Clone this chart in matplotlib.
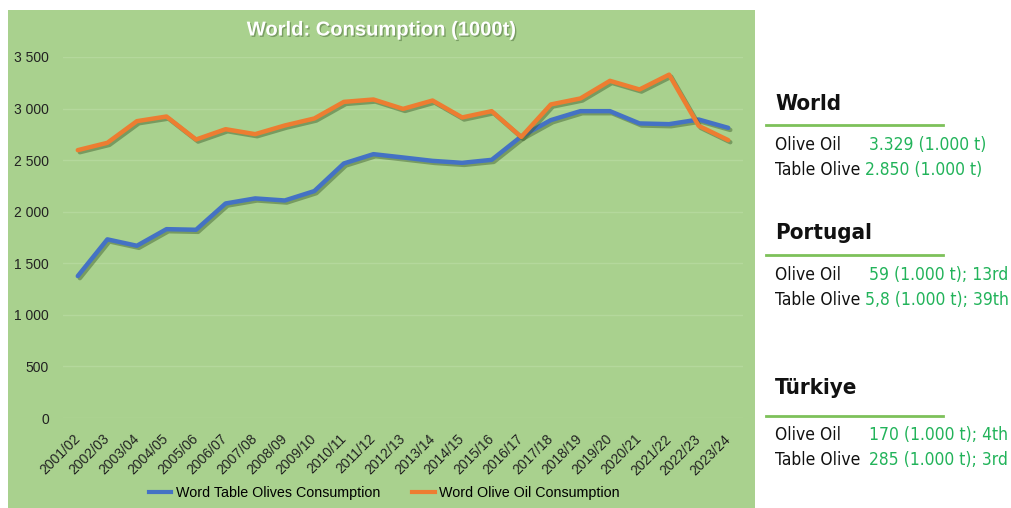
import matplotlib
matplotlib.use("Agg")
import matplotlib.pyplot as plt
import matplotlib.patheffects as pe
import matplotlib.transforms as mtransforms
from matplotlib.patches import Rectangle
from matplotlib.lines import Line2D
from matplotlib import font_manager

seasons = ["2001/02", "2002/03", "2003/04", "2004/05", "2005/06", "2006/07", "2007/08",
           "2008/09", "2009/10", "2010/11", "2011/12", "2012/13", "2013/14", "2014/15",
           "2015/16", "2016/17", "2017/18", "2018/19", "2019/20", "2020/21", "2021/22",
           "2022/23", "2023/24"]
table_olives = [1376, 1732, 1670, 1831, 1825, 2080, 2129, 2109, 2200, 2468, 2558, 2526,
                2493, 2474, 2503, 2730, 2888, 2975, 2975, 2856, 2849, 2894, 2813]
olive_oil = [2597, 2668, 2878, 2923, 2700, 2800, 2752, 2836, 2904, 3065, 3088, 2997,
             3078, 2914, 2975, 2725, 3040, 3098, 3269, 3185, 3329, 2833, 2694]
y_ticks = [0, 500, 1000, 1500, 2000, 2500, 3000, 3500]
y_tick_labels = ["0", "500", "1 000", "1 500", "2 000", "2 500", "3 000", "3 500"]
series_names = ["Word Table Olives Consumption", "Word Olive Oil Consumption"]
title = "World: Consumption (1000t)"

side_heads = ["World", "Portugal", "Türkiye"]
row_labels = ["Olive Oil", "Table Olive"]
side_values = [
    ["3.329 (1.000 t)", "2.850 (1.000 t)"],
    ["59 (1.000 t); 13rd", "5,8 (1.000 t); 39th"],
    ["170 (1.000 t); 4th", "285 (1.000 t); 3rd"],
]

available = {f.name for f in font_manager.fontManager.ttflist}
sans = "Liberation Sans" if "Liberation Sans" in available else "DejaVu Sans"
narrow = "DejaVu Sans"

W, H = 1012, 508
fig = plt.figure(figsize=(W / 100, H / 100), dpi=100)
fig.patch.set_facecolor("white")

panel_green = "#a9d18e"
bg = Rectangle((8 / W, 0), (755 - 8) / W, (H - 10) / H, transform=fig.transFigure,
               facecolor=panel_green, edgecolor="none", zorder=-10)
fig.add_artist(bg)

ax = fig.add_axes([63 / W, (H - 418) / H, (743 - 63) / W, (418 - 57) / H])
ax.set_facecolor("none")
ax.set_zorder(1)
x = list(range(len(seasons)))
shadow = [pe.SimpleLineShadow(offset=(1.5, -1.5), shadow_color="#3a5a2a", alpha=0.45), pe.Normal()]
ax.plot(x, table_olives, color="#4472c4", lw=3.2, solid_capstyle="round",
        solid_joinstyle="round", path_effects=shadow, zorder=3)
ax.plot(x, olive_oil, color="#ed7d31", lw=3.2, solid_capstyle="round",
        solid_joinstyle="round", path_effects=shadow, zorder=4)
ax.set_xlim(-0.5, len(seasons) - 0.5)
ax.set_ylim(0, 3500)
ax.set_yticks(y_ticks)
ax.set_yticklabels(y_tick_labels, fontsize=10, family=sans, color="#222222")
ax.set_xticks(x)
ax.set_xticklabels(seasons, rotation=45, ha="right", rotation_mode="anchor",
                   fontsize=10, family=sans, color="#222222")
ax.tick_params(axis="x", length=0, pad=10)
ax.tick_params(axis="y", length=0, pad=10)
shift = mtransforms.ScaledTranslation(-5 / 100, 0, fig.dpi_scale_trans)
for lab in ax.get_xticklabels():
    lab.set_transform(lab.get_transform() + shift)
ax.grid(axis="y", color="#b4d89c", lw=1)
for s in ax.spines.values():
    s.set_visible(False)

fig.text(381 / W, 1 - 30 / H, title, ha="center", va="center", fontsize=14.5,
         fontweight="bold", color="white", family=sans,
         path_effects=[pe.withSimplePatchShadow(offset=(1, -1), shadow_rgbFace="#4a6a3a", alpha=0.5)])

handles = [Line2D([], [], color="#4472c4", lw=3), Line2D([], [], color="#ed7d31", lw=3)]
fig.legend(handles, series_names, loc="center", bbox_to_anchor=(384 / W, 1 - 493 / H),
           ncol=2, frameon=False, handlelength=1.6, handletextpad=0.3,
           columnspacing=2.2, prop={"family": sans, "size": 10.3})

# side panel
head_y = [104, 233, 388]
line_y = [125, 255, 416]
row_y = [[145, 170], [275, 300], [435, 460]]
val_x = [[869, 865], [869, 865], [869, 869]]
for b in range(3):
    fig.text(775 / W, 1 - head_y[b] / H, side_heads[b], ha="left", va="center",
             fontsize=16, fontweight="bold", family=narrow, fontstretch="condensed",
             color="#111111")
    fig.add_artist(Line2D([766 / W, 943 / W], [1 - line_y[b] / H, 1 - line_y[b] / H],
                          transform=fig.transFigure, color="#7dc15a", lw=2))
    for r in range(2):
        yy = 1 - row_y[b][r] / H
        fig.text(775 / W, yy, row_labels[r], ha="left", va="center", fontsize=12.5,
                 family=narrow, fontstretch="condensed", color="#111111")
        fig.text(val_x[b][r] / W, yy, side_values[b][r], ha="left", va="center",
                 fontsize=12.5, family=narrow, fontstretch="condensed", color="#22b35a")

fig.savefig("out.png", dpi=100)
